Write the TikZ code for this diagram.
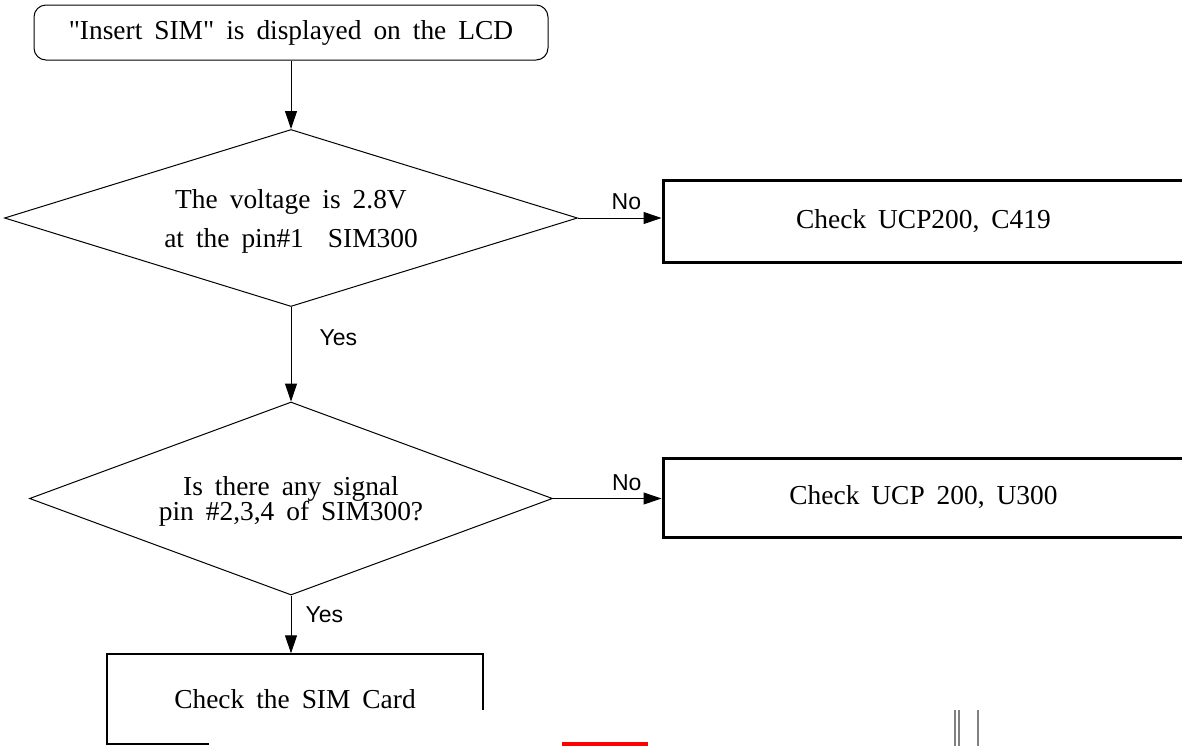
\documentclass[tikz,border=0pt]{standalone}
\usepackage{fontspec}
\setmainfont[WordSpace=1.75]{Liberation Serif}
\newfontfamily\labelfont{Liberation Sans}
\usetikzlibrary{shapes.geometric,arrows.meta}
\newcommand\tightlines{\lineskiplimit=-20pt\relax}

\begin{document}
\begin{tikzpicture}[x=0.5pt,y=-0.5pt,line width=0.5pt,
   txt/.style={font=\fontsize{13.7}{13.7}\selectfont,align=center},
   startbox/.style={txt,draw,rounded corners=6pt,minimum width=257pt,minimum height=27.5pt},
   decision/.style={txt,draw,diamond,inner sep=0pt,text depth=0pt},
   chkbox/.style={txt,draw,line width=1.5pt,minimum width=260.5pt},
   arr/.style={-{Triangle[length=9pt,width=6pt]}},
   yn/.style={font=\labelfont\fontsize{11.5}{11.5}\selectfont,inner sep=0pt}]
   \clip (0,0) rectangle (1182,745);
   \node[startbox] (start) at (291,32.5) {\textquotedbl Insert SIM\textquotedbl{} is displayed on the LCD};
   \node[decision,aspect=3.24,minimum width=286.5pt,minimum height=88.5pt,
      font=\fontsize{13.7}{19.5}\selectfont] (volt) at (291,218)
      {The voltage is 2.8V\\at the pin\#1\ \ SIM300};
   \node[chkbox,minimum height=41pt] (chk1) at (923.5,221.5) {Check UCP200, C419};
   \node[decision,aspect=2.71,minimum width=261.5pt,minimum height=96.5pt,
      font=\fontsize{13.7}{12.2}\selectfont\tightlines] (sig) at (291,498.5)
      {Is there any signal\\pin \#2,3,4 of SIM300?};
   \node[chkbox,minimum height=39.5pt] (chk2) at (923.5,497.5) {Check UCP 200, U300};
   \node[txt,draw,line width=0.7pt,minimum width=188pt,minimum height=45pt] (card) at (295,699)
      {Check the SIM Card};
   \draw[arr] (start) -- (volt);
   \draw[arr] (volt.east) -- (volt.east -| chk1.west) node[yn,pos=0.58,above=4pt] {No};
   \draw[arr] (volt) -- (sig) node[yn,pos=0.32,right=14pt] {Yes};
   \draw[arr] (sig.east) -- (sig.east -| chk2.west) node[yn,pos=0.68,above=3.5pt] {No};
   \draw[arr] (sig.south) -- (sig.south |- card.north) node[yn,pos=0.34,right=7pt] {Yes};
   % cut-off strip at the bottom
   \fill[white] (209,710) rectangle (1182,746);
   \fill[red] (562,742) rectangle (648,746);
   \draw[gray,line width=1pt] (955,710) -- (955,746) (959,710) -- (959,746) (978,710) -- (978,746);
\end{tikzpicture}
\end{document}
